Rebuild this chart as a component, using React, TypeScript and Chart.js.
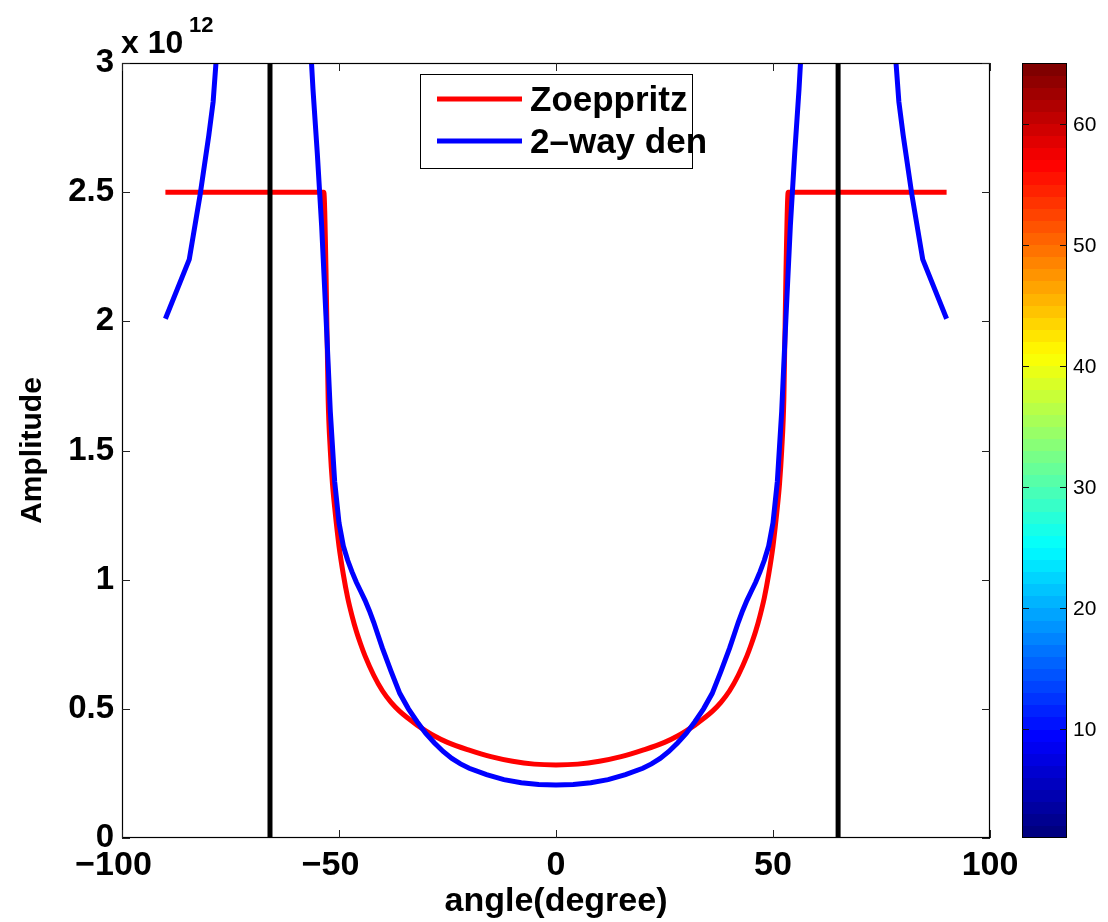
import React, { useEffect, useRef } from 'react';
import { Chart, registerables } from 'chart.js';

Chart.register(...registerables);

// ---------- data (amplitudes in units of 1e12) ----------
const zoeAngles = [
  -90, -53.5, -53, -52.5, -52, -51.5, -51, -50, -49, -48, -47, -46, -45, -44, -42, -40,
  -38, -36, -34, -32, -30, -28, -25, -20, -15, -10, -5, 0,
  5, 10, 15, 20, 25, 28, 30, 32, 34, 36, 38, 40, 42, 44, 45, 46, 47, 48, 49, 50, 51,
  51.5, 52, 52.5, 53, 53.5, 90,
];
const zoeAmp = [
  2.5, 2.5, 2.2, 1.7, 1.5, 1.37, 1.28, 1.13, 1.02, 0.93, 0.86, 0.8, 0.75, 0.705, 0.63, 0.57,
  0.525, 0.49, 0.462, 0.437, 0.415, 0.395, 0.37, 0.34, 0.315, 0.297, 0.286, 0.283,
  0.286, 0.297, 0.315, 0.34, 0.37, 0.395, 0.415, 0.437, 0.462, 0.49, 0.525, 0.57, 0.63, 0.705,
  0.75, 0.8, 0.86, 0.93, 1.02, 1.13, 1.28, 1.37, 1.5, 1.7, 2.2, 2.5, 2.5,
];

const denAngles = [
  -90, -84.5, -82, -80, -79, -78, -76, -72, -68, -64, -60, -58, -57, -56, -55, -54, -53, -52,
  -51, -50, -49, -48, -47, -46, -45, -44, -43, -42, -41, -40, -38, -36, -34, -32, -30, -28,
  -26, -24, -22, -20, -16, -12, -8, -4, 0,
  4, 8, 12, 16, 20, 22, 24, 26, 28, 30, 32, 34, 36, 38, 40, 41, 42, 43, 44, 45, 46, 47, 48,
  49, 50, 51, 52, 53, 54, 55, 56, 57, 58, 60, 64, 68, 72, 76, 78, 79, 80, 82, 84.5, 90,
];
const denAmp = [
  2.01, 2.24, 2.49, 2.72, 2.85, 3.08, 3.7, 5.2, 7.5, 7.0, 4.8, 3.6, 3.2, 2.9, 2.65, 2.37, 2.02,
  1.65, 1.38, 1.22, 1.13, 1.075, 1.03, 0.99, 0.955, 0.92, 0.88, 0.835, 0.785, 0.735, 0.645, 0.56,
  0.5, 0.45, 0.405, 0.368, 0.335, 0.308, 0.287, 0.27, 0.245, 0.226, 0.214, 0.207, 0.205,
  0.207, 0.214, 0.226, 0.245, 0.27, 0.287, 0.308, 0.335, 0.368, 0.405, 0.45, 0.5, 0.56, 0.645,
  0.735, 0.785, 0.835, 0.88, 0.92, 0.955, 0.99, 1.03, 1.075, 1.13, 1.22, 1.38, 1.65, 2.02, 2.37,
  2.65, 2.9, 3.2, 3.6, 4.8, 7.0, 7.5, 5.2, 3.7, 3.08, 2.85, 2.72, 2.49, 2.24, 2.01,
];

const criticalAngles = [-65.9, 65.0];
const seriesLabels = ['Zoeppritz', '2\u2013way den'];

const xTicks = [-100, -50, 0, 50, 100];
const yTicks = [0, 0.5, 1, 1.5, 2, 2.5, 3];
const yTickLabels = ['0', '0.5', '1', '1.5', '2', '2.5', '3'];
const cbTicks = [10, 20, 30, 40, 50, 60];
const cbRange = [1, 65];
const cbLevels = 64;

// ---------- styles ----------
const FONT = "'Liberation Sans', Arial, Helvetica, sans-serif";

function jet(t: number): string {
  const f = (c: number) => Math.max(0, Math.min(1, 1.5 - Math.abs(4 * t - c)));
  return `rgb(${Math.round(f(3) * 255)},${Math.round(f(2) * 255)},${Math.round(f(1) * 255)})`;
}

const framePlugin = {
  id: 'matlabFrame',
  afterDraw(chart: any) {
    const { ctx, chartArea } = chart;
    const { left, right, top, bottom } = chartArea;
    const xs = chart.scales.x;
    const ys = chart.scales.y;
    ctx.save();
    // frame
    ctx.strokeStyle = '#000';
    ctx.lineWidth = 1.2;
    ctx.strokeRect(left + 0.5, top + 0.5, right - left - 1, bottom - top - 1);
    // inward ticks
    ctx.lineWidth = 1;
    ctx.strokeStyle = '#222';
    const tl = 8;
    xTicks.forEach((v) => {
      const px = Math.round(xs.getPixelForValue(v)) + 0.5;
      ctx.beginPath();
      ctx.moveTo(px, bottom);
      ctx.lineTo(px, bottom - tl);
      ctx.moveTo(px, top);
      ctx.lineTo(px, top + tl);
      ctx.stroke();
    });
    yTicks.forEach((v) => {
      const py = Math.round(ys.getPixelForValue(v)) + 0.5;
      ctx.beginPath();
      ctx.moveTo(left, py);
      ctx.lineTo(left + tl, py);
      ctx.moveTo(right, py);
      ctx.lineTo(right - tl, py);
      ctx.stroke();
    });

    // exponent label
    ctx.fillStyle = '#000';
    ctx.textBaseline = 'alphabetic';
    ctx.textAlign = 'left';
    ctx.font = `bold 32px ${FONT}`;
    ctx.fillText('x 10', left - 1, top - 10);
    ctx.font = `bold 22px ${FONT}`;
    ctx.fillText('12', left + 67, top - 31);

    // legend
    const lx = left + 298;
    const ly = top + 11;
    const lw = 272;
    const lh = 94;
    ctx.fillStyle = '#fff';
    ctx.fillRect(lx, ly, lw, lh);
    ctx.strokeStyle = '#000';
    ctx.lineWidth = 1;
    ctx.strokeRect(lx + 0.5, ly + 0.5, lw, lh);
    const ds = chart.data.datasets;
    [0, 1].forEach((i) => {
      const yy = ly + (i === 0 ? 25 : 67);
      ctx.strokeStyle = ds[i].borderColor;
      ctx.lineWidth = 5;
      ctx.beginPath();
      ctx.moveTo(lx + 17, yy);
      ctx.lineTo(lx + 102, yy);
      ctx.stroke();
      ctx.fillStyle = '#000';
      ctx.font = `bold 35px ${FONT}`;
      ctx.textBaseline = 'middle';
      ctx.fillText(ds[i].label, lx + 110, yy + 2);
    });

    // colorbar
    const cbL = right + 32;
    const cbR = right + 77;
    const map = (v: number) => bottom - ((v - cbRange[0]) / (cbRange[1] - cbRange[0])) * (bottom - top);
    for (let i = 0; i < cbLevels; i++) {
      const v0 = cbRange[0] + i;
      const y0 = map(v0);
      const y1 = map(v0 + 1);
      ctx.fillStyle = jet(i / (cbLevels - 1));
      ctx.fillRect(cbL, Math.floor(y1), cbR - cbL, Math.ceil(y0) - Math.floor(y1));
    }
    ctx.strokeStyle = '#000';
    ctx.lineWidth = 1;
    ctx.strokeRect(cbL + 0.5, top + 0.5, cbR - cbL - 1, bottom - top - 1);
    ctx.strokeStyle = '#111';
    ctx.font = `21px ${FONT}`;
    ctx.fillStyle = '#000';
    ctx.textAlign = 'left';
    ctx.textBaseline = 'middle';
    cbTicks.forEach((v) => {
      const py = Math.round(map(v)) + 0.5;
      ctx.beginPath();
      ctx.moveTo(cbL, py);
      ctx.lineTo(cbL + 7, py);
      ctx.moveTo(cbR, py);
      ctx.lineTo(cbR - 7, py);
      ctx.stroke();
      ctx.fillText(String(v), cbR + 6, py + 1);
    });
    ctx.restore();
  },
};

export default function App() {
  const canvasRef = useRef<HTMLCanvasElement | null>(null);

  useEffect(() => {
    const canvas = canvasRef.current;
    if (!canvas) return;
    const zoePts = zoeAngles.map((a, i) => ({ x: a, y: zoeAmp[i] }));
    const denPts = denAngles.map((a, i) => ({ x: a, y: denAmp[i] }));
    const yMin = yTicks[0];
    const yMax = yTicks[yTicks.length - 1];
    const vlines = criticalAngles.map((a) => ({
      label: '',
      data: [
        { x: a, y: yMin },
        { x: a, y: yMax },
      ],
      borderColor: '#000000',
      borderWidth: 5,
      pointRadius: 0,
      tension: 0,
      clip: 0,
      order: 0,
    }));

    const chart = new Chart(canvas, {
      type: 'line',
      data: {
        datasets: [
          {
            label: seriesLabels[0],
            data: zoePts,
            borderColor: '#ff0000',
            borderWidth: 5,
            pointRadius: 0,
            cubicInterpolationMode: 'monotone',
            clip: 0,
            order: 2,
          },
          {
            label: seriesLabels[1],
            data: denPts,
            borderColor: '#0000ff',
            borderWidth: 5,
            pointRadius: 0,
            tension: 0,
            clip: 0,
            order: 1,
          },
          ...vlines,
        ] as any,
      },
      options: {
        responsive: false,
        animation: false,
        devicePixelRatio: 1,
        parsing: false as any,
        layout: { padding: { top: 63, right: 118, bottom: 0, left: 0 } },
        plugins: {
          legend: { display: false },
          tooltip: { enabled: false },
        },
        scales: {
          x: {
            type: 'linear',
            min: xTicks[0],
            max: xTicks[xTicks.length - 1],
            afterBuildTicks: (s: any) => {
              s.ticks = xTicks.map((v) => ({ value: v }));
            },
            afterFit: (s: any) => {
              s.height = 84;
            },
            grid: { display: false, drawTicks: false },
            border: { display: false },
            ticks: {
              autoSkip: false,
              maxRotation: 0,
              padding: 7,
              color: '#000',
              font: { family: FONT, size: 34, weight: 'bold' },
              callback: (v: any) => (v < 0 ? '\u2212' + Math.abs(v) + '\u2002' : String(v)),
            },
            title: {
              display: true,
              text: 'angle(degree)',
              color: '#000',
              font: { family: FONT, size: 34, weight: 'bold' },
              padding: { top: 0, bottom: 0 },
            },
          },
          y: {
            type: 'linear',
            min: yTicks[0],
            max: yTicks[yTicks.length - 1],
            afterBuildTicks: (s: any) => {
              s.ticks = yTicks.map((v) => ({ value: v }));
            },
            afterFit: (s: any) => {
              s.width = 122;
            },
            grid: { display: false, drawTicks: false },
            border: { display: false },
            ticks: {
              padding: 8,
              color: '#000',
              font: { family: FONT, size: 33, weight: 'bold' },
              callback: (v: any) => {
                const idx = yTicks.indexOf(Number(v));
                return idx >= 0 ? yTickLabels[idx] : '';
              },
            },
            title: {
              display: true,
              text: 'Amplitude',
              color: '#000',
              font: { family: FONT, size: 30, weight: 'bold' },
              padding: { top: 15, bottom: 0 },
            },
          },
        },
      } as any,
      plugins: [framePlugin],
    });
    return () => chart.destroy();
  }, []);

  return (
    <div style={{ position: 'fixed', left: 0, top: 0, width: 1108, height: 922, background: '#fff' }}>
      <canvas ref={canvasRef} width={1108} height={922} style={{ display: 'block' }} />
    </div>
  );
}
